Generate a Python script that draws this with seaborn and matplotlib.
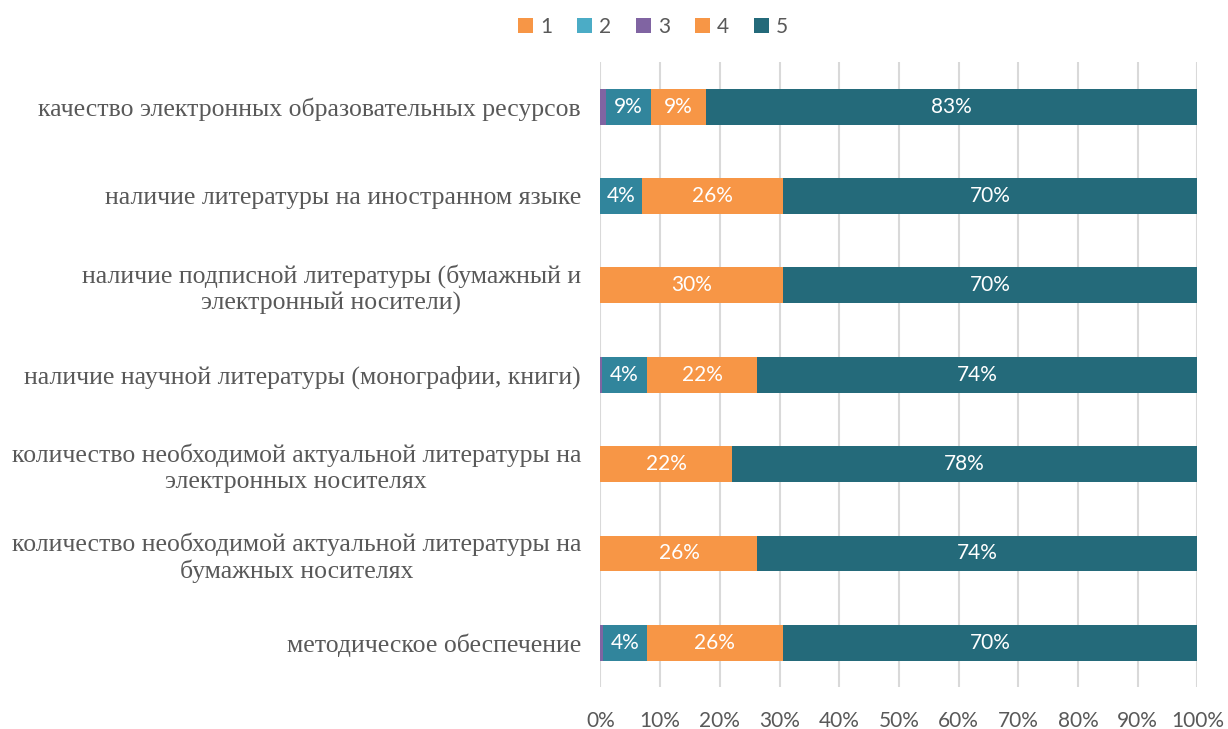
import numpy as np
import pandas as pd
import matplotlib
matplotlib.use("Agg")
import matplotlib.pyplot as plt
import seaborn as sns
from matplotlib.patches import Patch
from matplotlib.ticker import PercentFormatter

# categories, top to bottom
items = [
    "качество электронных образовательных ресурсов",
    "наличие литературы на иностранном языке",
    "наличие подписной литературы (бумажный и\nэлектронный носители)",
    "наличие научной литературы (монографии, книги)",
    "количество необходимой актуальной литературы на\nэлектронных носителях",
    "количество необходимой актуальной литературы на\nбумажных носителях",
    "методическое обеспечение",
]

# segment widths, in % (as drawn), stacking order: 3, 2, 4, 5  (series 1 is empty)
s1 = [0.0, 0.0, 0.0, 0.0, 0.0, 0.0, 0.0]
s3 = [0.9, 0.0, 0.0, 0.2, 0.0, 0.0, 0.4]
s2 = [7.6, 7.0, 0.0, 7.6, 0.0, 0.0, 7.4]
s4 = [9.1, 23.6, 30.6, 18.5, 22.0, 26.3, 22.7]
s5 = [82.4, 69.4, 69.4, 73.7, 78.0, 73.7, 69.5]

# data labels as shown on the bars
lab2 = ["9%", "4%", "", "4%", "", "", "4%"]
lab4 = ["9%", "26%", "30%", "22%", "22%", "26%", "26%"]
lab5 = ["83%", "70%", "70%", "74%", "78%", "74%", "70%"]

legend_names = ["1", "2", "3", "4", "5"]
legend_colors = ["#F79646", "#4BACC6", "#8064A2", "#F79646", "#246A7A"]
c_orange = "#F79646"
c_teal = "#31859C"
c_purple = "#8064A2"
c_dark = "#246A7A"

df = pd.DataFrame({"item": items, "s1": s1, "s2": s2, "s3": s3, "s4": s4, "s5": s5})
df["c3"] = df["s1"] + df["s3"]
df["c2"] = df["c3"] + df["s2"]
df["c4"] = df["c2"] + df["s4"]
df["c5"] = df["c4"] + df["s5"]

sns.set_style("white")
plt.rcParams["font.family"] = ["Lato", "DejaVu Sans"]

fig, ax = plt.subplots(figsize=(12.28, 7.29), dpi=100)
fig.subplots_adjust(left=0.489, right=0.975, bottom=0.057, top=0.915)

for col, color in [("c5", c_dark), ("c4", c_orange), ("c2", c_teal), ("c3", c_purple)]:
    sns.barplot(data=df, x=col, y="item", orient="h", color=color, width=0.4,
                saturation=1, linewidth=0, ax=ax, order=items)

# labels in segment centers
for i in range(len(items)):
    for start, end, txt in [(df["c3"][i], df["c2"][i], lab2[i]),
                            (df["c2"][i], df["c4"][i], lab4[i]),
                            (df["c4"][i], df["c5"][i], lab5[i])]:
        if txt:
            ax.text((start + end) / 2, i, txt, ha="center", va="center",
                    color="white", fontsize=15)

ax.set_xlim(0, 100)
ax.set_xticks(np.arange(0, 101, 10))
ax.xaxis.set_major_formatter(PercentFormatter(decimals=0))
ax.grid(axis="x", color="#D9D9D9", linewidth=1.5)
ax.set_axisbelow(True)
for sp in ax.spines.values():
    sp.set_visible(False)
ax.set_xlabel("")
ax.set_ylabel("")
ax.tick_params(axis="x", length=0, pad=17, labelsize=15, labelcolor="#595959")
ax.tick_params(axis="y", length=0, pad=14)
for t in ax.get_yticklabels():
    t.set_family("Liberation Serif")
    t.set_fontsize(18.5)
    t.set_color("#595959")
    t.set_multialignment("center")

handles = [Patch(facecolor=c, edgecolor="none") for c in legend_colors]
fig.legend(handles, legend_names, loc="center", bbox_to_anchor=(0.532, 0.963),
           ncol=5, frameon=False, fontsize=15, handlelength=0.7, handleheight=0.7,
           columnspacing=1.2, handletextpad=0.35, labelcolor="#595959")

fig.savefig("out.png", dpi=100)
